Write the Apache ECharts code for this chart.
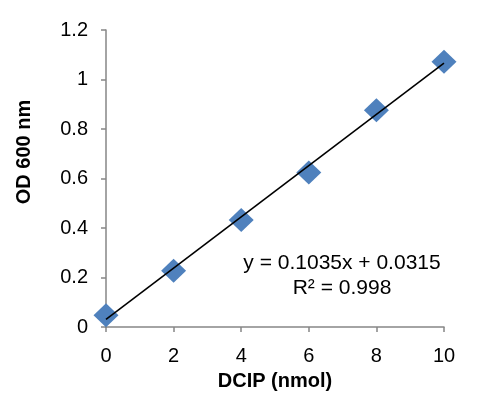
<!DOCTYPE html>
<html>
<head>
<meta charset="utf-8">
<script src="https://cdn.jsdelivr.net/npm/echarts@6/dist/echarts.min.js"></script>
<style>
  html, body { margin: 0; padding: 0; background: #fff; }
  #chart { width: 488px; height: 396px; }
</style>
</head>
<body>
<div id="chart"></div>
<script>
// measured points
const dcip = [0, 2, 4, 6, 8, 10]
const od600 = [0.048, 0.228, 0.433, 0.624, 0.876, 1.072]
// linear fit shown in the chart
const slope = 0.1035
const intercept = 0.0315
const trendX = [0, 10]

const chart = echarts.init(document.getElementById('chart'))

const font = 'Liberation Sans, Arial, sans-serif'
const axisStroke = { color: '#868686', width: 1.5 }

chart.setOption({
  animation: false,
  grid: { left: 106, right: 44, top: 30, bottom: 67 },
  xAxis: {
    type: 'value',
    min: 0, max: 10, interval: 2,
    name: 'DCIP (nmol)',
    nameLocation: 'middle',
    nameGap: 40,
    nameTextStyle: { fontFamily: font, fontWeight: 'bold', fontSize: 20, color: '#000' },
    axisLine: { lineStyle: axisStroke },
    axisTick: { show: true, length: 5, lineStyle: axisStroke },
    axisLabel: { fontFamily: font, fontSize: 20, color: '#000', margin: 19 },
    splitLine: { show: false }
  },
  yAxis: {
    type: 'value',
    min: 0, max: 1.2, interval: 0.2,
    axisLine: { show: true, lineStyle: axisStroke },
    axisTick: { show: true, length: 5, lineStyle: axisStroke },
    axisLabel: { fontFamily: font, fontSize: 20, color: '#000', margin: 18 },
    splitLine: { show: false }
  },
  series: [
    {
      type: 'scatter',
      data: dcip.map((x, i) => [x, od600[i]]),
      symbol: 'diamond',
      symbolSize: [25, 24],
      itemStyle: { color: '#4F81BD', opacity: 1 },
      z: 2
    },
    {
      type: 'line',
      data: trendX.map(x => [x, slope * x + intercept]),
      symbol: 'none',
      lineStyle: { color: '#000', width: 1.6 },
      z: 3
    }
  ],
  graphic: [
    {
      // y axis title sits above the plot middle in the original
      type: 'text',
      x: 24, y: 152,
      rotation: Math.PI / 2,
      style: {
        text: 'OD 600 nm',
        fontFamily: font, fontWeight: 'bold', fontSize: 20, fill: '#000',
        align: 'center', verticalAlign: 'middle'
      }
    },
    {
      type: 'text',
      x: 342, y: 263,
      style: {
        text: 'y = 0.1035x + 0.0315',
        fontFamily: font, fontSize: 21, fill: '#000',
        align: 'center', verticalAlign: 'middle'
      }
    },
    {
      type: 'text',
      x: 342, y: 288,
      style: {
        text: 'R² = 0.998',
        fontFamily: font, fontSize: 21, fill: '#000',
        align: 'center', verticalAlign: 'middle'
      }
    }
  ]
})
</script>
</body>
</html>
